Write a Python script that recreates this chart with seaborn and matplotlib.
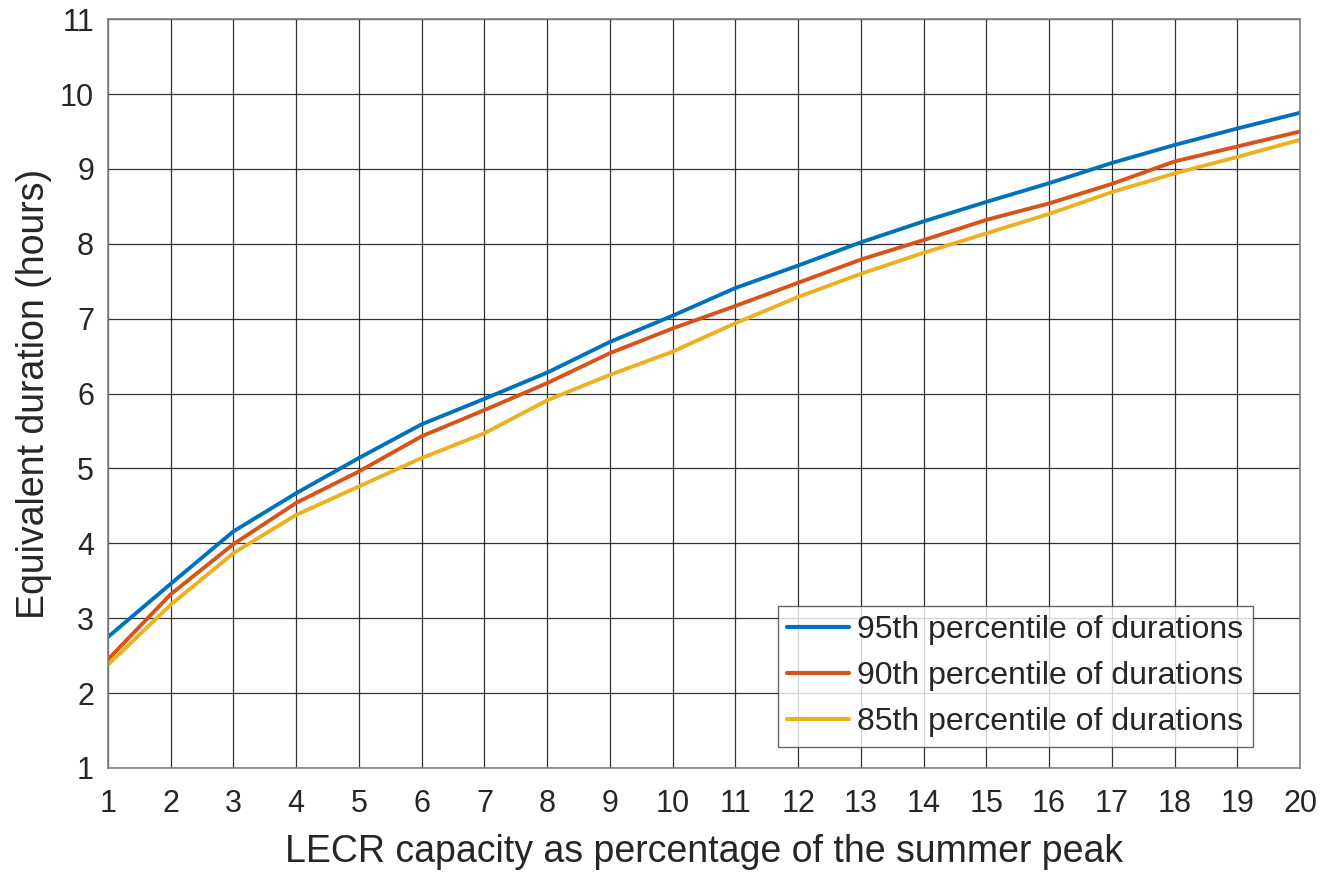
import numpy as np
import pandas as pd
import matplotlib
matplotlib.use('Agg')
import matplotlib.pyplot as plt
import seaborn as sns

# LECR capacity (% of summer peak)
capacity = list(range(1, 21))

# equivalent duration (hours)
p95 = [2.75, 3.46, 4.16, 4.67, 5.14, 5.59, 5.93, 6.28, 6.69, 7.04,
       7.41, 7.71, 8.02, 8.30, 8.56, 8.81, 9.08, 9.32, 9.54, 9.75]
p90 = [2.45, 3.32, 3.99, 4.54, 4.96, 5.43, 5.78, 6.14, 6.54, 6.87,
       7.17, 7.48, 7.79, 8.05, 8.32, 8.54, 8.80, 9.10, 9.30, 9.50]
p85 = [2.38, 3.18, 3.87, 4.38, 4.76, 5.14, 5.47, 5.91, 6.25, 6.56,
       6.94, 7.29, 7.60, 7.88, 8.14, 8.40, 8.69, 8.94, 9.16, 9.39]

labels = ['95th percentile of durations',
          '90th percentile of durations',
          '85th percentile of durations']
colors = ['#0072BD', '#D95319', '#EDB120']

df = pd.DataFrame({
    'capacity': capacity * 3,
    'duration': p95 + p90 + p85,
    'series': [labels[0]] * 20 + [labels[1]] * 20 + [labels[2]] * 20,
})

sns.set_theme(style="white")
plt.rcParams['font.family'] = ['Liberation Sans', 'DejaVu Sans']

fig, ax = plt.subplots(figsize=(13.22, 8.72), dpi=100)
fig.subplots_adjust(left=0.0817, right=0.9834, top=0.978, bottom=0.1193)

sns.lineplot(data=df, x='capacity', y='duration', hue='series',
             palette=colors, linewidth=2.8, ax=ax)

ax.set_xlim(1, 20)
ax.set_ylim(1, 11)
ax.set_xticks(range(1, 21))
ax.set_yticks(range(1, 12))
ax.grid(True, color='black', linewidth=0.9, alpha=0.8)
ax.set_axisbelow(True)
for s in ax.spines.values():
    s.set_color('#808080')
    s.set_linewidth(1.2)

ax.tick_params(axis='x', labelsize=22, colors='#262626', length=0, pad=15)
ax.tick_params(axis='y', labelsize=22, colors='#262626', length=0, pad=10)
ax.set_xlabel('LECR capacity as percentage of the summer peak', fontsize=27,
              color='#262626', labelpad=11)
ax.set_ylabel('Equivalent duration (hours)', fontsize=27, color='#262626', labelpad=6)

leg = ax.legend(loc='lower right', bbox_to_anchor=(0.9606, 0.028), fontsize=23,
                frameon=True, fancybox=False, handlelength=1.95, handletextpad=0.25,
                borderpad=0.3, borderaxespad=0, labelspacing=0.5, title=None)
leg.get_frame().set_edgecolor('#404040')
leg.get_frame().set_linewidth(1.0)
for line in leg.get_lines():
    line.set_linewidth(3)

fig.savefig('out.png', dpi=100)
